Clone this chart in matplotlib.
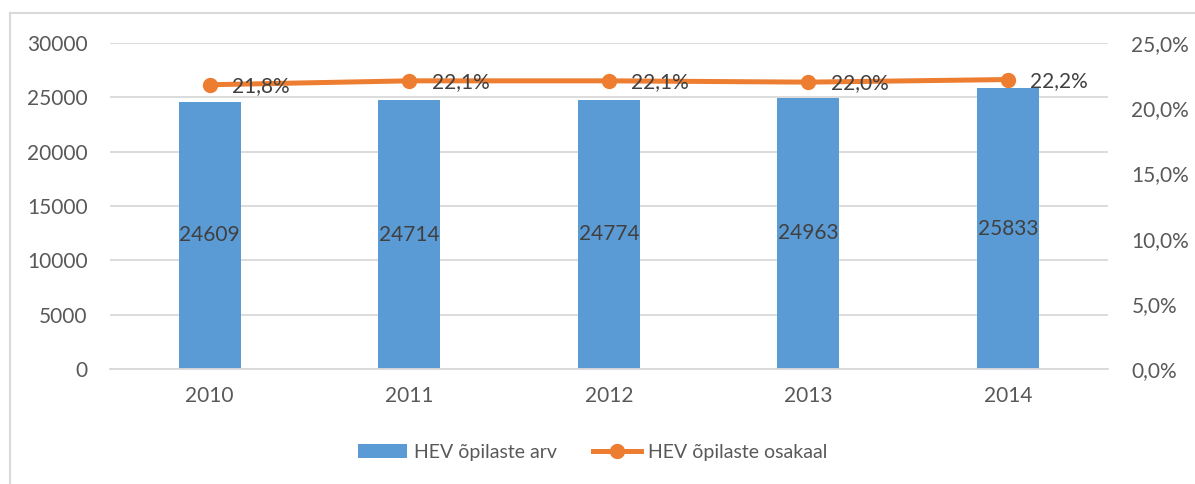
import matplotlib.pyplot as plt
from matplotlib.lines import Line2D
from matplotlib.ticker import FuncFormatter

plt.rcParams['font.family'] = ['Lato', 'DejaVu Sans']

years = ["2010", "2011", "2012", "2013", "2014"]
counts = [24609, 24714, 24774, 24963, 25833]
shares = [21.8, 22.1, 22.1, 22.0, 22.2]

blue = "#5B9BD5"
orange = "#ED7D31"
txt = "#595959"
grid = "#D9D9D9"

fig = plt.figure(figsize=(11.95, 4.84), dpi=100)
ax = fig.add_axes([0.092, 0.2376, 0.835, 0.6735])
ax2 = ax.twinx()

x = range(len(years))
ax.bar(x, counts, width=0.31, color=blue, label="HEV õpilaste arv", zorder=2)
for i, v in enumerate(counts):
    ax.text(i, v / 2, str(v), ha="center", va="center", fontsize=15, color="#404040", zorder=3)

ax.set_ylim(0, 30000)
ax.set_xlim(-0.5, len(years) - 0.5)
ax.set_yticks(range(0, 30001, 5000))
ax.set_xticks(list(x))
ax.set_xticklabels(years)
ax.grid(axis="y", color=grid, linewidth=1.3, zorder=0)
ax.set_axisbelow(True)

ax2.plot(x, shares, color=orange, linewidth=3.6, marker="o", markersize=10,
         label="HEV õpilaste osakaal", zorder=4)
for i, v in enumerate(shares):
    ax2.annotate(f"{v:.1f}%".replace(".", ","), (i, v), xytext=(16, -1),
                 textcoords="offset points", ha="left", va="center",
                 fontsize=15, color="#404040", zorder=6)
ax2.set_ylim(0, 25)
ax2.set_yticks(range(0, 26, 5))
ax2.yaxis.set_major_formatter(FuncFormatter(lambda v, p: f"{v:.1f}%".replace(".", ",")))

for a in (ax, ax2):
    for s in a.spines.values():
        s.set_visible(False)
    a.tick_params(length=0, labelsize=15, colors=txt)
ax.spines["bottom"].set_visible(True)
ax.spines["bottom"].set_color(grid)
ax.spines["bottom"].set_linewidth(1.3)
ax.tick_params(axis="y", pad=16)
ax.tick_params(axis="x", pad=12)
ax2.tick_params(axis="y", pad=17)

h1, l1 = ax.get_legend_handles_labels()
h2, l2 = ax2.get_legend_handles_labels()
fig.legend(h1 + h2, l1 + l2, loc="center", bbox_to_anchor=(0.496, 0.066), ncol=2,
           frameon=False, fontsize=14, labelcolor=txt, handlelength=2.5,
           handletextpad=0.35, columnspacing=1.85)

# chart frame (left and top edges only visible)
fig.add_artist(Line2D([10 / 1195, 10 / 1195], [0, 1 - 13 / 484], color=grid, linewidth=1.5))
fig.add_artist(Line2D([10 / 1195, 1], [1 - 13 / 484, 1 - 13 / 484], color=grid, linewidth=1.5))

fig.savefig("out.png", dpi=100)
